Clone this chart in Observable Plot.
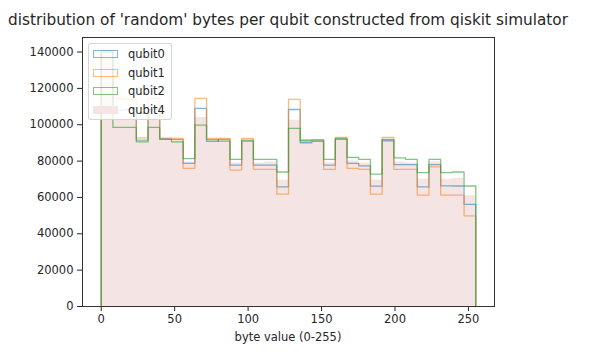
<!DOCTYPE html>
<html>
<head>
<meta charset="utf-8">
<script src="https://cdn.jsdelivr.net/npm/d3@7"></script>
<script src="https://cdn.jsdelivr.net/npm/@observablehq/plot@0.6"></script>
<style>
  html, body { margin: 0; padding: 0; background: white; }
  #wrap { position: relative; width: 595px; height: 363px; font-family: "DejaVu Sans", sans-serif; color: #262626; }
  #title { position: absolute; left: 0px; width: 576px; top: 10px; text-align: center; font-size: 15.3px; white-space: nowrap; line-height: 20px; }
  #xlabel { position: absolute; left: 0px; width: 576px; top: 329px; text-align: center; font-size: 11.5px; white-space: nowrap; line-height: 16px; }
  #legend { position: absolute; left: 88px; top: 43px; width: 84px; height: 77px; box-sizing: border-box;
    background: rgba(255,255,255,0.8); border: 1px solid rgba(204,204,204,0.8); border-radius: 3px; }
  .row { position: absolute; left: 4px; height: 18px; display: flex; align-items: center; font-size: 11.5px; }
  .sw { width: 25px; height: 8px; box-sizing: border-box; margin-right: 10px; }
</style>
</head>
<body>
<div id="wrap">
  <div id="chart"></div>
  <div id="title">distribution of 'random' bytes per qubit constructed from qiskit simulator</div>
  <div id="xlabel">byte value (0-255)</div>
  <div id="legend"></div>
</div>
<script>
// 32 histogram bins over byte values 0-255
const binCount = 32;
const seriesNames = ["qubit0", "qubit1", "qubit2", "qubit4"];
const qubit0 = [140500, 108000, 108500, 91500, 108500, 92200, 91900, 78700, 109000, 90800, 92000, 77800, 91000, 77800, 77800, 65800,
                108400, 90100, 90800, 77800, 91900, 78700, 77400, 66200, 91200, 78100, 78100, 65800, 78100, 66400, 66300, 56200];
const qubit1 = [141000, 114500, 114000, 92800, 114500, 92600, 92500, 76000, 114500, 92500, 92500, 75000, 92500, 75400, 75400, 61800,
                114000, 91800, 91800, 75400, 93000, 76000, 75400, 61800, 93000, 75400, 75400, 61300, 76800, 61300, 61300, 49900];
const qubit2 = [140000, 98500, 98500, 90600, 98500, 91900, 90600, 81400, 99800, 91800, 91000, 81000, 91500, 81000, 81000, 74000,
                98000, 91200, 91500, 81000, 92500, 82000, 81000, 72800, 91900, 81800, 80900, 73700, 81000, 73700, 74000, 66300];
const qubit4 = [139500, 103000, 102500, 91000, 103000, 92000, 91500, 79500, 104000, 91500, 91500, 79000, 91000, 79000, 79500, 69500,
                102500, 91000, 91000, 79000, 92000, 80000, 79000, 69500, 92000, 79500, 79000, 70000, 79500, 70000, 70500, 61000];
const yTicks = [0, 20000, 40000, 60000, 80000, 100000, 120000, 140000];
const xTicks = [0, 50, 100, 150, 200, 250];

const colors = {qubit0: "#1f77b4", qubit1: "#ff7f0e", qubit2: "#2ca02c", qubit4: "#f5e4e4"};

const edges = d3.range(binCount + 1).map(i => i * 255 / binCount);
function stepPoints(vals) {
  const pts = [{x: 0, y: 0}];
  vals.forEach((v, i) => pts.push({x: edges[i], y: v}));
  pts.push({x: 255, y: vals[vals.length - 1]});
  pts.push({x: 255, y: 0});
  return pts;
}

const chart = Plot.plot({
  width: 595,
  height: 363,
  marginLeft: 82,
  marginRight: 101,
  marginTop: 37,
  marginBottom: 57,
  style: {fontFamily: "DejaVu Sans, sans-serif", fontSize: "11.5px", color: "#262626", background: "white"},
  x: {domain: [-12.75, 267.75], ticks: xTicks, tickSize: 5, tickPadding: 3, label: null},
  y: {domain: [0, 148000], ticks: yTicks, tickFormat: d3.format("d"), tickSize: 5, tickPadding: 4, label: null},
  marks: [
    Plot.areaY(stepPoints(qubit4), {x: "x", y: "y", curve: "step-after", fill: colors.qubit4}),
    Plot.line(stepPoints(qubit0), {x: "x", y: "y", curve: "step-after", stroke: colors.qubit0, strokeOpacity: 0.55, strokeWidth: 1.3}),
    Plot.line(stepPoints(qubit1), {x: "x", y: "y", curve: "step-after", stroke: colors.qubit1, strokeOpacity: 0.55, strokeWidth: 1.3}),
    Plot.line(stepPoints(qubit2), {x: "x", y: "y", curve: "step-after", stroke: colors.qubit2, strokeOpacity: 0.6, strokeWidth: 1.3}),
    Plot.frame({stroke: "#333", strokeWidth: 1})
  ]
});
document.getElementById("chart").appendChild(chart);

// legend
const leg = document.getElementById("legend");
seriesNames.forEach((name, i) => {
  const row = document.createElement("div");
  row.className = "row";
  row.style.top = (1 + i * 18.5) + "px";
  const sw = document.createElement("span");
  sw.className = "sw";
  if (name === "qubit4") {
    sw.style.background = colors.qubit4;
  } else {
    sw.style.border = "1.3px solid " + colors[name];
    sw.style.opacity = name === "qubit2" ? 0.6 : 0.55;
  }
  row.appendChild(sw);
  const t = document.createElement("span");
  t.textContent = name;
  row.appendChild(t);
  leg.appendChild(row);
});
</script>
</body>
</html>
